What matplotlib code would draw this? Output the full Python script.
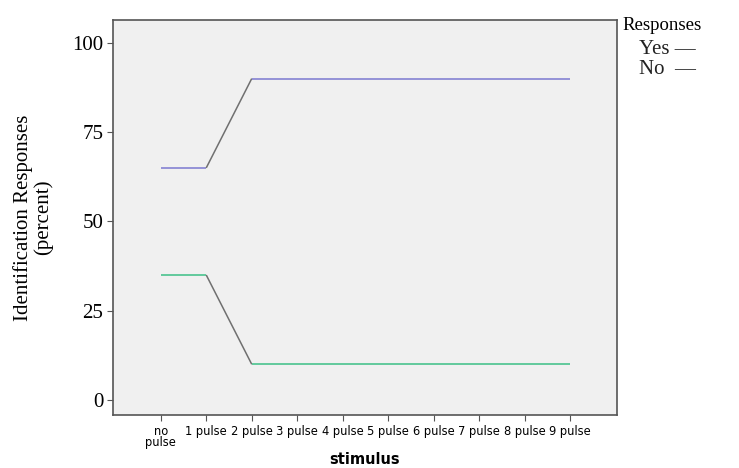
import matplotlib.pyplot as plt

stimulus = ['no\npulse', '1 pulse', '2 pulse', '3 pulse', '4 pulse', '5 pulse',
            '6 pulse', '7 pulse', '8 pulse', '9 pulse']
yes_resp = [65, 65, 90, 90, 90, 90, 90, 90, 90, 90]
no_resp = [35, 35, 10, 10, 10, 10, 10, 10, 10, 10]
yticks = [0, 25, 50, 75, 100]

fig = plt.figure(figsize=(7.39, 4.68), dpi=100)
ax = fig.add_axes([113/739, 1 - 415/468, (617-113)/739, (415-20)/468])
ax.set_facecolor('#f0f0f0')

x = list(range(len(stimulus)))
for y, col in [(yes_resp, '#7b78d0'), (no_resp, '#3bbf86')]:
    for i in range(len(x) - 1):
        c = '#707070' if y[i] != y[i+1] else col
        ax.plot(x[i:i+2], y[i:i+2], color=c, lw=1.1, solid_capstyle='butt')

ax.set_xlim(-1.05, 10.03)
ax.set_ylim(-4.2, 106.4)
ax.set_xticks(x)
ax.set_xticklabels(stimulus, fontsize=8.3, family='Arial', linespacing=0.85)
ax.set_yticks(yticks)
ax.set_yticklabels([str(t) for t in yticks], fontsize=15, family='Liberation Serif')
for s in ax.spines.values():
    s.set_color('#555555')
    s.set_linewidth(1.2)
ax.tick_params(axis='both', length=4, color='#555555', pad=3)

ax.set_ylabel('Identification Responses\n(percent)', family='Liberation Serif',
              fontsize=15, linespacing=1.0, labelpad=14)
# x label placed by hand so it stays inside the figure
fig.text(365/739, 1 - 459/468, 'stimulus', family='Arial', fontsize=10.5,
         fontweight='bold', ha='center', va='center')

fig.text(622/739, 1 - 26/468, 'Responses', family='Liberation Serif', fontsize=13.5,
         va='center', ha='left')
fig.text(639/739, 1 - 50/468, 'Yes —', family='Liberation Serif', fontsize=15,
         va='center', ha='left', color='#222222')
fig.text(639/739, 1 - 70/468, 'No  —', family='Liberation Serif', fontsize=15,
         va='center', ha='left', color='#222222')

plt.savefig('out.png', dpi=100)
